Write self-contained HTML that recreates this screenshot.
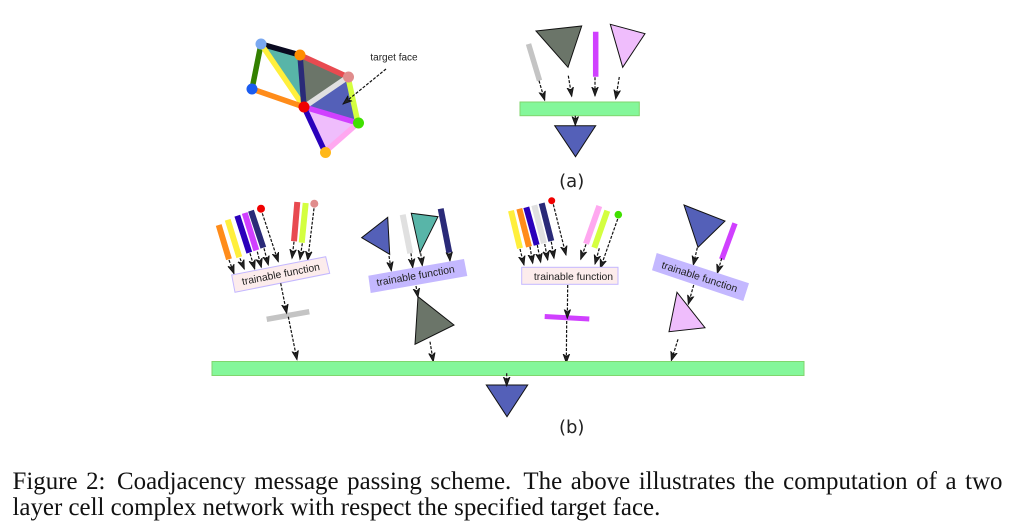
<!DOCTYPE html>
<html>
<head>
<meta charset="utf-8">
<style>
html,body{margin:0;padding:0;background:#fff;width:1024px;height:528px;overflow:hidden}
svg{position:absolute;left:0;top:0;filter:blur(.3px)}
.a line,line.a{stroke:#111;stroke-width:1.2;stroke-dasharray:3 1.5;marker-end:url(#h);fill:none}
.t{font-family:"Liberation Sans",sans-serif;font-size:10.4px;fill:#222;text-anchor:middle;dominant-baseline:central}
.d{font-family:"DejaVu Sans",sans-serif;font-size:18px;fill:#222;text-anchor:middle}
.tri{stroke:#111;stroke-width:1;stroke-linejoin:miter}
.cap{position:absolute;left:12.500px;width:990px;font-family:"Liberation Serif",serif;font-size:24.9px;line-height:26px;color:#111;white-space:nowrap}
</style>
</head>
<body>
<svg width="1024" height="528" viewBox="0 0 1024 528" xmlns="http://www.w3.org/2000/svg">
<defs>
<marker id="h" markerUnits="userSpaceOnUse" markerWidth="12" markerHeight="10" refX="9" refY="5" orient="auto">
<path d="M0,1.700 L9,5 L0,8.300 L2.600,5 Z" fill="#222" stroke="#111" stroke-width=".8"/>
</marker>
</defs>

<!-- mesh -->
<polygon points="261,44 300,55 304,107" fill="#58b5a8"/>
<polygon points="300,55 348,77 304,107" fill="#6b7569"/>
<polygon points="348,77 358,123 304,107" fill="#5460b8"/>
<polygon points="304,107 358,123 325,152" fill="#efbdfc"/>
<g stroke-width="5.500" fill="none">
<line x1="261" y1="44" x2="300" y2="55" stroke="#0a0a20"/>
<line x1="261" y1="44" x2="252" y2="89" stroke="#338000"/>
<line x1="261" y1="44" x2="304" y2="107" stroke="#ffef3c"/>
<line x1="252" y1="89" x2="304" y2="107" stroke="#ff8c1a"/>
<line x1="300" y1="55" x2="304" y2="107" stroke="#2a2a78"/>
<line x1="300" y1="55" x2="348" y2="77" stroke="#e84a50"/>
<line x1="304" y1="107" x2="348" y2="77" stroke="#e0e0e0"/>
<line x1="348" y1="77" x2="358" y2="123" stroke="#d4ff40"/>
<line x1="304" y1="107" x2="358" y2="123" stroke="#d040ff"/>
<line x1="304" y1="107" x2="325" y2="152" stroke="#2a00bb"/>
<line x1="358" y1="123" x2="325" y2="152" stroke="#ffa8f0"/>
</g>
<circle cx="261" cy="44" r="5.500" fill="#7aa8f0"/>
<circle cx="300" cy="55" r="5.500" fill="#ff8c00"/>
<circle cx="348.500" cy="77" r="5.500" fill="#e08c8c"/>
<circle cx="252" cy="89" r="5.500" fill="#1a5cf0"/>
<circle cx="304" cy="107" r="5.500" fill="#f00000"/>
<circle cx="358.500" cy="123" r="5.500" fill="#40e000"/>
<circle cx="325.500" cy="152.500" r="5.500" fill="#ffb81a"/>
<text x="394" y="58" class="t" style="font-size:10px">target face</text>
<line class="a" x1="386" y1="69" x2="343" y2="104"/>

<!-- (a) -->
<line x1="528.500" y1="44" x2="539.500" y2="80.500" stroke="#c4c4c4" stroke-width="5.500"/>
<polygon class="tri" points="536,31 581.700,26 568,67.300" fill="#6b7569"/>
<line x1="595.700" y1="31.700" x2="595.700" y2="76.700" stroke="#d040ff" stroke-width="5.500"/>
<polygon class="tri" points="610.300,24.300 645,33.700 622.700,67.300" fill="#efbdfc"/>
<g class="a">
<line x1="539" y1="80.700" x2="544.700" y2="100.300"/>
<line x1="568.300" y1="75.700" x2="571.700" y2="96.300"/>
<line x1="595" y1="77.300" x2="595" y2="96"/>
<line x1="619.300" y1="77" x2="615.700" y2="99"/>
</g>
<rect x="520" y="102" width="119.300" height="13.700" fill="#84f79a" stroke="#7fd66d" stroke-width="1"/>
<polygon class="tri" points="554.700,125.700 595.700,125.700 575.500,156.700" fill="#5460b8"/>
<line class="a" x1="575.300" y1="115.700" x2="575.300" y2="125.500"/>
<text x="571.700" y="187" class="d">(a)</text>

<!-- (b) group 1 -->
<g stroke-width="6" fill="none">
<line x1="218.700" y1="225" x2="229" y2="259.300" stroke="#ff8c1a"/>
<line x1="227.700" y1="219.700" x2="239.300" y2="257.300" stroke="#ffef3c"/>
<line x1="237.300" y1="215.700" x2="249.300" y2="252.700" stroke="#2a00bb"/>
<line x1="244.700" y1="213" x2="256.300" y2="250.300" stroke="#d040ff"/>
<line x1="251" y1="210.700" x2="263.300" y2="247.700" stroke="#2a2a78"/>
<line x1="297.300" y1="202" x2="294" y2="241.300" stroke="#e84a50"/>
<line x1="305.700" y1="203" x2="301.700" y2="242.700" stroke="#d4ff40"/>
</g>
<circle cx="261" cy="208.700" r="4" fill="#f00000"/>
<circle cx="314.300" cy="203.700" r="4" fill="#e08c8c"/>
<g class="a">
<line x1="229" y1="260" x2="234" y2="273.700"/>
<line x1="240" y1="258.300" x2="244.300" y2="269"/>
<line x1="250" y1="253.300" x2="254.700" y2="269"/>
<line x1="257.300" y1="251.700" x2="261.300" y2="267.300"/>
<line x1="264" y1="248.300" x2="268.300" y2="265"/>
<line x1="262.300" y1="213.300" x2="278.300" y2="261.700"/>
<line x1="294" y1="241.700" x2="292" y2="258.300"/>
<line x1="302.300" y1="243.300" x2="300" y2="259.300"/>
<line x1="314" y1="208.300" x2="307.700" y2="260.300"/>
</g>
<polygon points="231.700,275 325.700,256.700 329.700,273.300 235,292.300" fill="#fcecec" stroke="#c4b8ff" stroke-width="1"/>
<text transform="translate(281,275) rotate(-11)" class="t">trainable function</text>
<line x1="266.700" y1="319.300" x2="309.300" y2="311.700" stroke="#c4c4c4" stroke-width="5.500"/>
<line class="a" x1="280.700" y1="283.300" x2="286.700" y2="313.300"/>
<line class="a" x1="288.300" y1="316.700" x2="297" y2="359.700"/>

<!-- group 2 -->
<polygon class="tri" points="361.700,237.700 387.700,217.300 389.700,254.300" fill="#5460b8"/>
<line x1="402.700" y1="214.700" x2="410.300" y2="253.300" stroke="#e0e0e0" stroke-width="6"/>
<polygon class="tri" points="411.300,213.300 438,216.700 420,252.700" fill="#58b5a8"/>
<line x1="440.700" y1="208.700" x2="449.300" y2="252.700" stroke="#2a2a78" stroke-width="6"/>
<g class="a">
<line x1="389" y1="256" x2="391.300" y2="270.700"/>
<line x1="411" y1="253.300" x2="412.700" y2="267.700"/>
<line x1="420.700" y1="253.300" x2="422.300" y2="265.700"/>
<line x1="449.300" y1="253.300" x2="450" y2="261"/>
</g>
<polygon points="368.300,275.700 464,259 467.300,276 370.700,293" fill="#c4b8ff"/>
<text transform="translate(415.700,276.700) rotate(-10)" class="t">trainable function</text>
<polygon class="tri" points="418,296.700 454,325 415,344.300" fill="#6b7569"/>
<line class="a" x1="416" y1="286" x2="418" y2="297.300"/>
<line class="a" x1="430" y1="341.700" x2="433.300" y2="361.700"/>

<!-- group 3 -->
<g stroke-width="6" fill="none">
<line x1="511" y1="210.700" x2="520" y2="248.300" stroke="#ffef3c"/>
<line x1="519.300" y1="208.700" x2="529" y2="246.700" stroke="#ff8c1a"/>
<line x1="526.300" y1="207.300" x2="536.700" y2="245" stroke="#2a00bb"/>
<line x1="534.300" y1="205.300" x2="544" y2="243.300" stroke="#e0e0e0"/>
<line x1="541.700" y1="203.300" x2="551.300" y2="241" stroke="#2a2a78"/>
<line x1="599.300" y1="206" x2="586" y2="243.700" stroke="#ffa8f0"/>
<line x1="607.300" y1="210.700" x2="594.300" y2="247.700" stroke="#d4ff40"/>
</g>
<circle cx="551.700" cy="200.700" r="3.500" fill="#f00000"/>
<circle cx="618.300" cy="214.700" r="3.800" fill="#40e000"/>
<g class="a">
<line x1="520" y1="249" x2="524" y2="265"/>
<line x1="530" y1="246.700" x2="532.700" y2="263.300"/>
<line x1="537.300" y1="245" x2="540.700" y2="262.300"/>
<line x1="544.700" y1="244" x2="547.700" y2="260"/>
<line x1="551.300" y1="241.700" x2="554" y2="258.300"/>
<line x1="553.300" y1="204.300" x2="566" y2="255"/>
<line x1="586" y1="244.300" x2="580.700" y2="259.300"/>
<line x1="599.300" y1="248.300" x2="595" y2="264"/>
<line x1="617.700" y1="219" x2="600.300" y2="268.300"/>
</g>
<rect x="521.700" y="267.300" width="96.300" height="17" fill="#fcecec" stroke="#c4b8ff" stroke-width="1"/>
<text x="573.500" y="277.500" class="t">trainable function</text>
<line x1="544.700" y1="316.500" x2="589.300" y2="319" stroke="#d040ff" stroke-width="5"/>
<line class="a" x1="567.700" y1="285" x2="567.300" y2="318.300"/>
<line class="a" x1="566.700" y1="321" x2="566.300" y2="363"/>

<!-- group 4 -->
<polygon class="tri" points="684,205 725,221 698,247.300" fill="#5460b8"/>
<line x1="735" y1="223.300" x2="721.700" y2="259.300" stroke="#d040ff" stroke-width="5.500"/>
<line class="a" x1="697.300" y1="247.700" x2="693.300" y2="265"/>
<line class="a" x1="721.700" y1="258.300" x2="717.300" y2="273.300"/>
<polygon points="656.700,253 749,283.300 743.300,301 652,270.300" fill="#c4b8ff"/>
<text transform="translate(699.300,277.700) rotate(18)" class="t">trainable function</text>
<polygon class="tri" points="677,292.300 705,327.700 669,331.700" fill="#efbdfc"/>
<line class="a" x1="693.700" y1="285" x2="688.300" y2="304.300"/>
<line class="a" x1="678" y1="339.300" x2="671.300" y2="360.700"/>

<!-- main bar -->
<rect x="212" y="361.500" width="592" height="14" fill="#84f79a" stroke="#7fd66d" stroke-width="1"/>
<polygon class="tri" points="486.300,385 527.700,385 507,416.700" fill="#5460b8"/>
<line class="a" x1="506.700" y1="373.300" x2="506.700" y2="386"/>
<text x="571.700" y="433" class="d">(b)</text>
</svg>
<div class="cap" style="top:469px;text-align:justify;text-align-last:justify">Figure 2:<span style="padding-left:3px"></span> Coadjacency message passing scheme.<span style="padding-left:4px"></span> The above illustrates the computation of a two</div>
<div class="cap" style="top:495px">layer cell complex network with respect the specified target face.</div>
</body>
</html>
